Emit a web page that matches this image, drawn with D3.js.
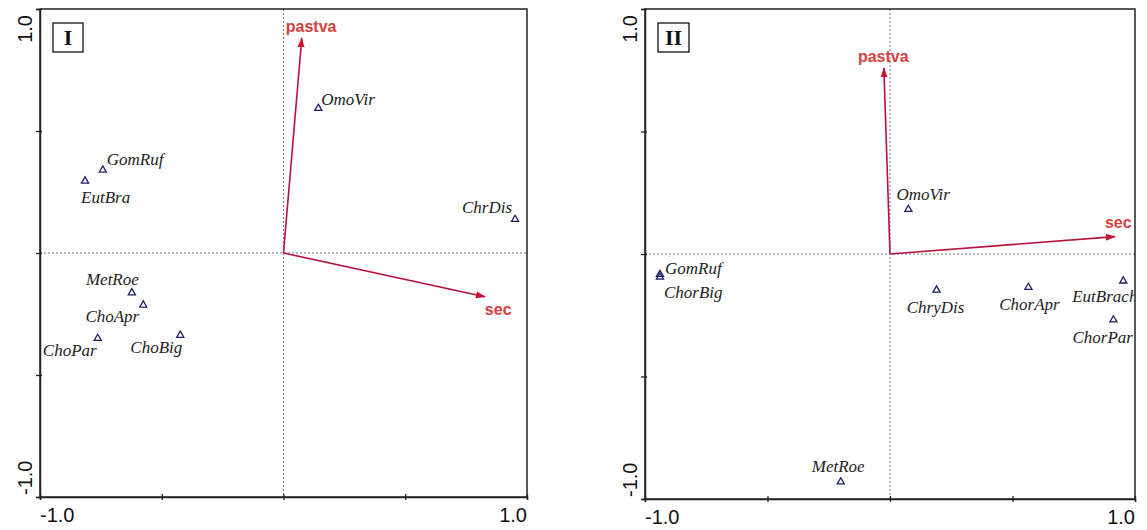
<!DOCTYPE html>
<html>
<head>
<meta charset="utf-8">
<script src="https://cdn.jsdelivr.net/npm/d3@7"></script>
<style>
  body { margin: 0; background: #fff; }
  svg { display: block; }
</style>
</head>
<body>
<svg id="chart" width="1147" height="530"></svg>
<script>
// panel I data
const speciesI = ['GomRuf', 'EutBra', 'OmoVir', 'ChrDis', 'MetRoe', 'ChoApr', 'ChoPar', 'ChoBig'];
const xI = [-0.742, -0.815, 0.143, 0.951, -0.623, -0.576, -0.763, -0.424];
const yI = [0.340, 0.295, 0.593, 0.138, -0.163, -0.213, -0.350, -0.337];
const envI = ['pastva', 'sec'];
const envXI = [0.075, 0.827];
const envYI = [0.880, -0.179];

// panel II data
const speciesII = ['OmoVir', 'GomRuf', 'ChorBig', 'MetRoe', 'ChryDis', 'ChorApr', 'EutBrach', 'ChorPar'];
const xII = [0.075, -0.939, -0.939, -0.201, 0.190, 0.565, 0.952, 0.912];
const yII = [0.182, -0.083, -0.094, -0.930, -0.147, -0.136, -0.110, -0.269];
const envII = ['pastva', 'sec'];
const envXII = [-0.025, 0.918];
const envYII = [0.758, 0.071];

const tickVals = [-1, -0.5, 0, 0.5, 1];

// label placement (dx, dy, anchor) per point
const labI = [[4, -5, 'start'], [-4, 22, 'start'], [3, -3, 'start'], [-3, -6, 'end'],
              [7, -8, 'end'], [-4, 17, 'end'], [-1, 18, 'end'], [2, 18, 'end']];
const labII = [[-12, -9, 'start'], [5, 0, 'start'], [4, 21, 'start'], [-29, -10, 'start'],
               [-1, 23, 'middle'], [1, 23, 'middle'], [-51, 21, 'start'], [-41, 23, 'start']];
const envLabI = [[-16, -6, 'start'], [0, 18, 'start']];
const envLabII = [[-26, -6, 'start'], [-10, -9, 'start']];

const svg = d3.select('#chart');
const defs = svg.append('defs');
defs.append('marker')
    .attr('id', 'arrow')
    .attr('viewBox', '0 0 10 10')
    .attr('refX', 9).attr('refY', 5)
    .attr('markerWidth', 10).attr('markerHeight', 10)
    .attr('markerUnits', 'userSpaceOnUse')
    .attr('orient', 'auto')
    .append('path')
    .attr('d', 'M0,1.5 L10,5 L0,8.5 Z')
    .attr('fill', '#c8102e');

function drawPanel(box, title, names, xs, ys, labs, env, ex, ey, envLabs) {
    const x = d3.scaleLinear().domain([-1, 1]).range([box.x0, box.x1]);
    const y = d3.scaleLinear().domain([-1, 1]).range([box.y1, box.y0]);
    const g = svg.append('g');

    defs.append('clipPath').attr('id', 'clip' + title)
        .append('rect')
        .attr('x', box.x0).attr('y', box.y0)
        .attr('width', box.x1 - box.x0).attr('height', box.y1 - box.y0);

    // zero lines
    g.append('line')
        .attr('x1', x(0)).attr('x2', x(0)).attr('y1', box.y0).attr('y2', box.y1)
        .attr('stroke', '#555').attr('stroke-width', 0.8).attr('stroke-dasharray', '2,2');
    g.append('line')
        .attr('y1', y(0)).attr('y2', y(0)).attr('x1', box.x0).attr('x2', box.x1)
        .attr('stroke', '#555').attr('stroke-width', 0.8).attr('stroke-dasharray', '2,2');

    // frame
    g.append('rect')
        .attr('x', box.x0).attr('y', box.y0)
        .attr('width', box.x1 - box.x0).attr('height', box.y1 - box.y0)
        .attr('fill', 'none').attr('stroke', '#222').attr('stroke-width', 1.5);

    // axes
    const ax = g.append('g')
        .attr('transform', `translate(0,${box.y1})`)
        .call(d3.axisBottom(x).tickValues(tickVals).tickFormat('').tickSizeOuter(0).tickSize(3));
    const ay = g.append('g')
        .attr('transform', `translate(${box.x0},0)`)
        .call(d3.axisLeft(y).tickValues(tickVals).tickFormat('').tickSizeOuter(0).tickSize(4));
    ax.select('.domain').attr('stroke', '#222').attr('stroke-width', 1.5);
    ay.select('.domain').attr('stroke', '#222').attr('stroke-width', 1.5);
    ax.selectAll('.tick line').attr('y1', -3).attr('stroke', '#222').attr('stroke-width', 1.3);
    ay.selectAll('.tick line').attr('x1', 2).attr('stroke', '#222').attr('stroke-width', 1.3);

    // end tick labels
    const tl = { 'font-family': 'Liberation Sans, Arial, sans-serif', 'font-size': 20, fill: '#111' };
    g.append('text').attr('x', x(-1)).attr('y', box.y1 + 25).text('-1.0')
        .attr('text-anchor', 'start').call(s => Object.entries(tl).forEach(([k, v]) => s.attr(k, v)));
    g.append('text').attr('x', x(1)).attr('y', box.y1 + 25).text('1.0')
        .attr('text-anchor', 'end').call(s => Object.entries(tl).forEach(([k, v]) => s.attr(k, v)));
    g.append('text').attr('transform', `translate(${box.x0 - 8},${y(1) + 6}) rotate(-90)`).text('1.0')
        .attr('text-anchor', 'end').call(s => Object.entries(tl).forEach(([k, v]) => s.attr(k, v)));
    g.append('text').attr('transform', `translate(${box.x0 - 8},${y(-1) - 2}) rotate(-90)`).text('-1.0')
        .attr('text-anchor', 'start').call(s => Object.entries(tl).forEach(([k, v]) => s.attr(k, v)));

    // panel title box
    g.append('rect')
        .attr('x', box.x0 + 13).attr('y', box.y0 + 14)
        .attr('width', title.length > 1 ? 31 : 30).attr('height', 29)
        .attr('fill', '#fff').attr('stroke', '#111').attr('stroke-width', 1.3);
    g.append('text')
        .attr('x', box.x0 + 13 + (title.length > 1 ? 15.5 : 15)).attr('y', box.y0 + 36)
        .attr('text-anchor', 'middle')
        .attr('font-family', 'Liberation Serif, Times New Roman, serif')
        .attr('font-weight', 'bold').attr('font-size', 22)
        .attr('fill', '#111')
        .text(title);

    // environmental arrows
    const inner = g.append('g').attr('clip-path', `url(#clip${title})`);
    env.forEach((name, i) => {
        inner.append('line')
            .attr('x1', x(0)).attr('y1', y(0))
            .attr('x2', x(ex[i])).attr('y2', y(ey[i]))
            .attr('stroke', '#b8123a').attr('stroke-width', 1.6)
            .attr('marker-end', 'url(#arrow)');
        const [dx, dy, anchor] = envLabs[i];
        g.append('text')
            .attr('x', x(ex[i]) + dx).attr('y', y(ey[i]) + dy)
            .attr('text-anchor', anchor)
            .attr('font-family', 'Liberation Sans, Arial, sans-serif')
            .attr('font-weight', 'bold').attr('font-size', 16)
            .attr('fill', '#d6403f')
            .text(name);
    });

    // species points
    const tri = d3.symbol().type(d3.symbolTriangle).size(22);
    names.forEach((name, i) => {
        inner.append('path')
            .attr('d', tri)
            .attr('transform', `translate(${x(xs[i])},${y(ys[i])})`)
            .attr('fill', 'none').attr('stroke', '#1f1f66').attr('stroke-width', 1.3);
        const [dx, dy, anchor] = labs[i];
        inner.append('text')
            .attr('x', x(xs[i]) + dx).attr('y', y(ys[i]) + dy)
            .attr('text-anchor', anchor)
            .attr('font-family', 'Liberation Serif, Times New Roman, serif')
            .attr('font-style', 'italic').attr('font-size', 17)
            .attr('fill', '#222')
            .text(name);
    });
}

drawPanel({ x0: 40, x1: 527, y0: 9, y1: 497 }, 'I', speciesI, xI, yI, labI, envI, envXI, envYI, envLabI);
drawPanel({ x0: 645, x1: 1135, y0: 9, y1: 499 }, 'II', speciesII, xII, yII, labII, envII, envXII, envYII, envLabII);
</script>
</body>
</html>
